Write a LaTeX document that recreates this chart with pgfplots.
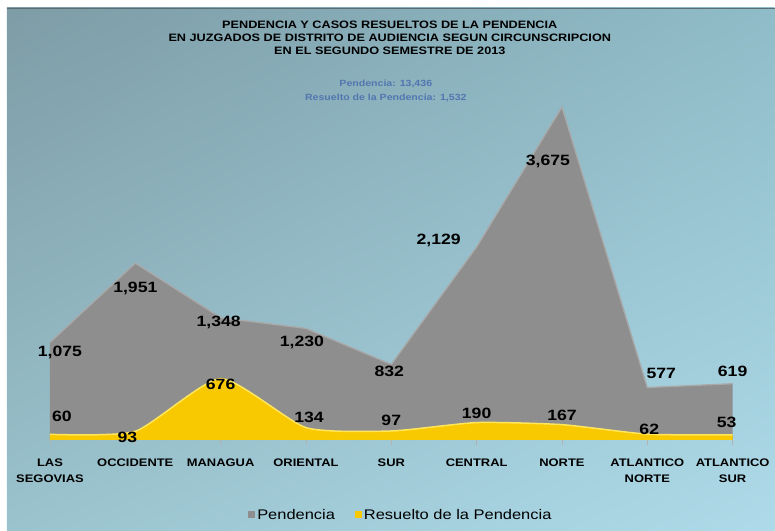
\documentclass[border=0pt]{standalone}
\usepackage{pgfplots}
\pgfplotsset{compat=1.18}
\usetikzlibrary{shadings}
\usepackage{fontspec}
\setmainfont{Liberation Sans}[FakeStretch=1.18]
\definecolor{grayA}{HTML}{8E8E8E}
\definecolor{grayE}{HTML}{A9A9A9}
\definecolor{yel}{HTML}{F8C800}
\definecolor{yelE}{HTML}{FFE65A}
\definecolor{bgUL}{HTML}{7E9CA6}
\definecolor{bgUR}{HTML}{8FBCC8}
\definecolor{bgLL}{HTML}{9AC3CD}
\definecolor{bgLR}{HTML}{AEDAE9}
\definecolor{subblue}{HTML}{5276B0}
\tikzset{lab/.style={font=\fontsize{15}{17}\selectfont\bfseries, text=black, inner sep=0pt}}
\begin{document}
\begin{tikzpicture}
\fill[white] (0,0) rectangle (775bp,531bp);
\shade[upper left=bgUL, upper right=bgUR, lower left=bgLL, lower right=bgLR] (7bp,0) rectangle (775bp,523bp);
\draw[bgUL!70!black, line width=0.8bp] (7bp,523bp) -- (775bp,523bp);
\begin{axis}[
  at={(50bp,91bp)}, anchor=south west,
  x=85.375bp, y=0.09061bp,
  xmin=0, xmax=8, ymin=0, ymax=4000,
  axis line style={draw=none},
  ytick=\empty,
  xtick={0,...,8},
  xticklabels={LAS\\SEGOVIAS, OCCIDENTE, MANAGUA, ORIENTAL, SUR, CENTRAL, NORTE, ATLANTICO\\NORTE, ATLANTICO\\SUR},
  xtick pos=bottom,
  tick align=outside,
  major tick length=5bp,
  tick style={draw=gray!60, line width=0.6bp},
  xticklabel style={font=\fontsize{11}{15.5}\selectfont\bfseries, align=center, yshift=-11bp},
  clip=false,
  legend style={at={(0.514,-0.207)}, anchor=center, draw=none, fill=none,
    legend columns=2, font=\fontsize{14}{16}\selectfont,
    /tikz/every even column/.append style={column sep=18bp}},
  legend image code/.code={\fill[#1] (0bp,-3.5bp) rectangle (7bp,3.5bp);},
]
\addplot[fill=grayA, draw=none] coordinates {(0,1075)(1,1951)(2,1348)(3,1230)(4,832)(5,2129)(6,3675)(7,577)(8,619)} \closedcycle;
\addlegendentry{Pendencia}
\addplot[fill=yel, draw=none, smooth, tension=0.35] coordinates {(0,60)(1,93)(2,676)(3,134)(4,97)(5,190)(6,167)(7,62)(8,53)} \closedcycle;
\addlegendentry{Resuelto de la Pendencia}
\addplot[grayE, line width=1.3bp, forget plot] coordinates {(0,1075)(1,1951)(2,1348)(3,1230)(4,832)(5,2129)(6,3675)(7,577)(8,619)};
\addplot[yelE, line width=1.5bp, smooth, tension=0.35, forget plot] coordinates {(0,60)(1,93)(2,676)(3,134)(4,97)(5,190)(6,167)(7,62)(8,53)};
% Pendencia labels
\node[lab, xshift=10bp, yshift=-10bp] at (axis cs:0,1075) {1,075};
\node[lab, xshift=0bp, yshift=-25bp] at (axis cs:1,1951) {1,951};
\node[lab, xshift=-2bp, yshift=-5bp] at (axis cs:2,1348) {1,348};
\node[lab, xshift=-4bp, yshift=-14bp] at (axis cs:3,1230) {1,230};
\node[lab, xshift=-2bp, yshift=-7bp] at (axis cs:4,832) {832};
\node[lab, xshift=-38bp, yshift=7bp] at (axis cs:5,2129) {2,129};
\node[lab, xshift=-14bp, yshift=-54bp] at (axis cs:6,3675) {3,675};
\node[lab, xshift=14bp, yshift=14bp] at (axis cs:7,577) {577};
\node[lab, xshift=0bp, yshift=12bp] at (axis cs:8,619) {619};
% Resuelto labels
\node[lab, xshift=12bp, yshift=18bp] at (axis cs:0,60) {60};
\node[lab, xshift=-8bp, yshift=-6bp] at (axis cs:1,93) {93};
\node[lab, xshift=0bp, yshift=-6bp] at (axis cs:2,676) {676};
\node[lab, xshift=3bp, yshift=10bp] at (axis cs:3,134) {134};
\node[lab, xshift=0bp, yshift=11bp] at (axis cs:4,97) {97};
\node[lab, xshift=0bp, yshift=9bp] at (axis cs:5,190) {190};
\node[lab, xshift=0bp, yshift=9bp] at (axis cs:6,167) {167};
\node[lab, xshift=2bp, yshift=5bp] at (axis cs:7,62) {62};
\node[lab, xshift=-6bp, yshift=13bp] at (axis cs:8,53) {53};
\end{axis}
\node[align=center, font=\fontsize{10.8}{13}\selectfont\bfseries, inner sep=0pt] at (390bp,493bp)
  {PENDENCIA Y CASOS RESUELTOS DE LA PENDENCIA\\EN JUZGADOS DE DISTRITO DE AUDIENCIA SEGUN CIRCUNSCRIPCION\\EN EL SEGUNDO SEMESTRE DE 2013};
\node[align=center, font=\fontsize{9}{14.5}\selectfont\bfseries, text=subblue, inner sep=0pt] at (386bp,440bp)
  {Pendencia: 13,436\\Resuelto de la Pendencia: 1,532};
\end{tikzpicture}
\end{document}
